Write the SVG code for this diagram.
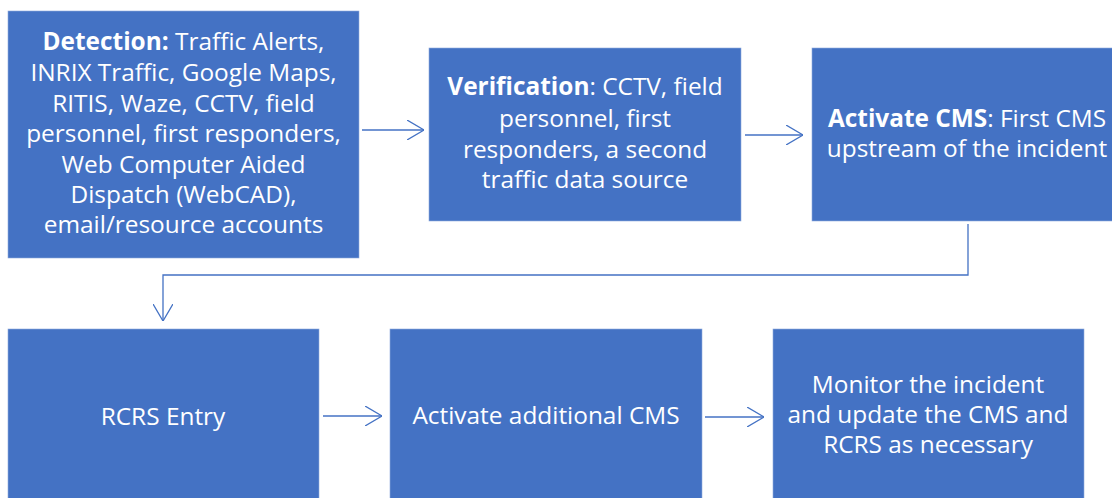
<svg xmlns="http://www.w3.org/2000/svg" width="1112" height="498" viewBox="0 0 1112 498">
<style>
.box{fill:#4472C4;stroke:#8FAADC;stroke-width:0.6}
.t{font-family:"Open Sans","Liberation Sans",sans-serif;font-size:24.4px;fill:#FFFFFF;text-anchor:middle}
.b{font-weight:bold}
.c{fill:none;stroke:#4472C4;stroke-width:1.3}
</style>
<defs>
<marker id="ah" viewBox="0 0 17 20" refX="17" refY="10" markerWidth="17" markerHeight="20" markerUnits="userSpaceOnUse" orient="auto">
<path d="M0,0 L17,10 L0,20" fill="none" stroke="#4472C4" stroke-width="1.3"/>
</marker>
</defs>
<g id="connectors">
<path class="c" d="M362,130 L424,130" marker-end="url(#ah)"/>
<path class="c" d="M745,135 L803,135" marker-end="url(#ah)"/>
<path class="c" d="M968,224 L968,275 L163,275 L163,321" marker-end="url(#ah)"/>
<path class="c" d="M323,416 L382,416" marker-end="url(#ah)"/>
<path class="c" d="M705,417 L764,417" marker-end="url(#ah)"/>
</g>
<g id="detection">
<rect class="box" x="8" y="11" width="351" height="247"/>
<text class="t"><tspan x="183.5" y="50"><tspan class="b">Detection:</tspan> Traffic Alerts,</tspan><tspan x="183.5" y="81">INRIX Traffic, Google Maps,</tspan><tspan x="183.5" y="112">RITIS, Waze, CCTV, field</tspan><tspan x="183.5" y="142">personnel, first responders,</tspan><tspan x="183.5" y="173">Web Computer Aided</tspan><tspan x="183.5" y="203">Dispatch (WebCAD),</tspan><tspan x="183.5" y="233">email/resource accounts</tspan></text>
</g>
<g id="verification">
<rect class="box" x="429" y="48" width="312" height="173"/>
<text class="t"><tspan x="585" y="95"><tspan class="b">Verification</tspan>: CCTV, field</tspan><tspan x="585" y="127">personnel, first</tspan><tspan x="585" y="158">responders, a second</tspan><tspan x="585" y="188">traffic data source</tspan></text>
</g>
<g id="activate-cms">
<rect class="box" x="812" y="48" width="312" height="173"/>
<text class="t"><tspan x="967" y="127"><tspan class="b">Activate CMS</tspan>: First CMS</tspan><tspan x="967" y="157">upstream of the incident</tspan></text>
</g>
<g id="rcrs-entry">
<rect class="box" x="8" y="329" width="311" height="180"/>
<text class="t" x="163" y="425">RCRS Entry</text>
</g>
<g id="activate-additional">
<rect class="box" x="390" y="329" width="312" height="180"/>
<text class="t" x="546" y="424">Activate additional CMS</text>
</g>
<g id="monitor">
<rect class="box" x="773" y="329" width="311" height="180"/>
<text class="t"><tspan x="928" y="393">Monitor the incident</tspan><tspan x="928" y="423">and update the CMS and</tspan><tspan x="928" y="453">RCRS as necessary</tspan></text>
</g>
</svg>
